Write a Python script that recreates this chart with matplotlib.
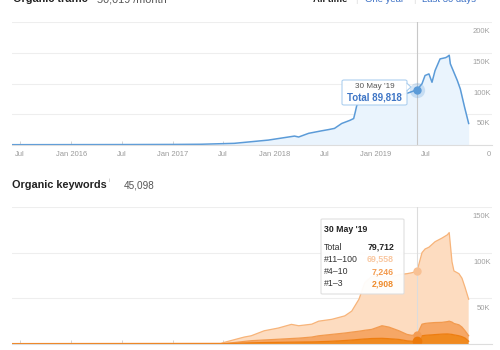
import matplotlib
matplotlib.use('Agg')
import matplotlib.pyplot as plt
import numpy as np
import pandas as pd
from matplotlib.patches import FancyBboxPatch, Polygon

plt.rcParams['font.family'] = ['Liberation Sans', 'DejaVu Sans']

# - DATA -
tick_dates = ['2015-07-01', '2016-01-01', '2016-07-01', '2017-01-01', '2017-07-01',
              '2018-01-01', '2018-07-01', '2019-01-01', '2019-07-01']
tick_labels = ['Jul', 'Jan 2016', 'Jul', 'Jan 2017', 'Jul', 'Jan 2018', 'Jul', 'Jan 2019', 'Jul']

traffic_dates = ['2015-06-02', '2016-01-01', '2016-07-01', '2017-01-01', '2017-04-12',
                 '2017-08-10', '2017-12-11', '2018-03-15', '2018-03-30', '2018-05-05',
                 '2018-06-20', '2018-07-15', '2018-08-06', '2018-09-01', '2018-09-30',
                 '2018-10-14', '2018-10-20', '2018-10-25', '2018-11-05', '2018-12-15',
                 '2019-02-01', '2019-03-20', '2019-04-24', '2019-05-30', '2019-06-17',
                 '2019-06-28', '2019-07-12', '2019-07-23', '2019-08-03', '2019-08-21',
                 '2019-09-10', '2019-09-16', '2019-09-23', '2019-09-27', '2019-10-22',
                 '2019-11-02', '2019-11-17', '2019-12-02']
traffic = [500, 600, 700, 900, 1200,
           2700, 8000, 14500, 13000, 19000,
           23000, 25000, 27000, 35000, 40000,
           43000, 54000, 64000, 72000, 70000,
           76000, 80000, 84000, 89818, 99500,
           113000, 115600, 102000, 121000, 140000,
           142000, 143500, 146000, 132000, 105000,
           91000, 62000, 35000]

kw_dates = ['2015-06-02', '2017-06-23', '2017-08-10', '2017-09-15', '2017-10-10',
            '2017-11-26', '2018-01-16', '2018-03-04', '2018-03-30', '2018-05-16',
            '2018-06-10', '2018-07-27', '2018-09-12', '2018-10-07', '2018-11-02',
            '2018-11-23', '2018-12-18', '2019-01-24', '2019-02-18', '2019-03-26',
            '2019-04-24', '2019-05-11', '2019-05-30', '2019-06-17', '2019-06-28',
            '2019-07-12', '2019-08-03', '2019-08-28', '2019-09-16', '2019-09-23',
            '2019-10-03', '2019-10-10', '2019-10-28', '2019-11-08', '2019-11-19',
            '2019-12-02']
kw_1_3 = [100, 200, 600, 1000, 1300,
          1600, 1800, 2000, 2100, 2300,
          2500, 3000, 3800, 4300, 5000,
          5500, 6000, 6200, 5800, 5000,
          3500, 3000, 2908, 9000, 9500,
          9800, 10300, 10800, 11000, 10800,
          10500, 10000, 9000, 8000, 6500,
          3000]
kw_4_10 = [100, 200, 1000, 1800, 2300,
           2800, 3400, 4000, 4300, 5300,
           6500, 7500, 8200, 8700, 9000,
           9500, 10000, 13800, 12700, 9500,
           7000, 6500, 7246, 12700, 13000,
           13200, 13200, 12900, 13500, 14200,
           13500, 12500, 12000, 10500, 8000,
           6000]
kw_total = [500, 800, 4700, 7600, 9000,
            14500, 17500, 21500, 20000, 21700,
            25000, 27000, 30800, 36000, 49000,
            67000, 74000, 75000, 73000, 76000,
            77000, 78000, 79712, 100000, 104000,
            106000, 112000, 116000, 119500, 122000,
            90000, 80000, 77000, 72000, 62000,
            49000]

hover_date = '2019-05-30'

# - FIGURE -
fig = plt.figure(figsize=(5, 3.5), dpi=100)


def fx(px):
    return px / 500


def fy(py):
    return 1 - py / 350


def style_axis(ax, ymax, yticks, ylabels):
    ax.set_xlim(pd.Timestamp('2015-06-02'), pd.Timestamp('2020-02-24'))
    ax.set_ylim(0, ymax)
    for s in ['top', 'right', 'left']:
        ax.spines[s].set_visible(False)
    ax.spines['bottom'].set_color('#dddddd')
    ax.spines['bottom'].set_linewidth(0.8)
    ax.set_xticks(pd.to_datetime(tick_dates))
    ax.set_xticklabels(tick_labels)
    ax.tick_params(axis='x', direction='in', length=3, color='#cccccc', width=0.6,
                   labelsize=5.5, labelcolor='#9a9a9a', pad=4)
    ax.set_yticks(yticks)
    ax.set_yticklabels([])
    ax.tick_params(axis='y', length=0)
    ax.grid(axis='y', color='#eeeeee', linewidth=0.8)
    ax.set_axisbelow(True)
    for v, s in zip(yticks, ylabels):
        ax.annotate(s, xy=(1, v), xycoords=('axes fraction', 'data'), xytext=(-1, -7),
                    textcoords='offset points', ha='right', va='center',
                    fontsize=5.5, color='#a0a0a0', annotation_clip=False)


# header of the top block (cut at the top edge)
fig.text(fx(13), fy(2.5), 'Organic traffic', fontsize=7.8, fontweight='bold',
         color='#222222', va='baseline')
fig.text(fx(97), fy(2.5), '50,019 /month', fontsize=7.8, color='#555555', va='baseline')
fig.text(fx(313), fy(2.5), 'All time', fontsize=6.8, fontweight='bold', color='#222222', va='baseline')
fig.text(fx(355), fy(2.5), '|', fontsize=6.8, color='#dddddd', va='baseline')
fig.text(fx(365), fy(2.5), 'One year', fontsize=6.8, color='#3a6fc4', va='baseline')
fig.text(fx(413), fy(2.5), '|', fontsize=6.8, color='#dddddd', va='baseline')
fig.text(fx(422), fy(2.5), 'Last 30 days', fontsize=6.8, color='#3a6fc4', va='baseline')

# - TOP: organic traffic -
ax1 = fig.add_axes([fx(12), fy(145), fx(480), (145 - 22) / 350])
style_axis(ax1, 200000, [0, 50000, 100000, 150000, 200000], ['0', '50K', '100K', '150K', '200K'])
td = pd.to_datetime(traffic_dates)
ax1.fill_between(td, traffic, color='#eaf4fd', linewidth=0)
ax1.plot(td, traffic, color='#5b9bd8', linewidth=1.1)
hd = pd.Timestamp(hover_date)
hv = traffic[traffic_dates.index(hover_date)]
ax1.axvline(hd, color='#c8c8c8', linewidth=0.8)
ax1.plot([hd], [hv], 'o', color='#5b9bd8', alpha=0.25, markersize=11, markeredgewidth=0)
ax1.plot([hd], [hv], 'o', color='#5b9bd8', markersize=6, markeredgewidth=0)

box1 = FancyBboxPatch((fx(342), fy(105)), fx(65), (105 - 80) / 350,
                      boxstyle='round,pad=0,rounding_size=0.004', transform=fig.transFigure,
                      facecolor='white', edgecolor='#a9cdee', linewidth=0.8, alpha=0.95)
fig.patches.append(box1)
ptr = Polygon([(fx(406.6), fy(83)), (fx(411), fy(87)), (fx(406.6), fy(91))], closed=False,
              transform=fig.transFigure, facecolor='white', edgecolor='#a9cdee', linewidth=0.8)
fig.patches.append(ptr)
fig.text(fx(374.5), fy(87), "30 May '19", fontsize=5.9, color='#555555', ha='center', va='center')
fig.text(fx(374.5), fy(97.5), 'Total 89,818', fontsize=7, fontweight='bold', color='#3f76c6',
         ha='center', va='center')

# - BOTTOM: organic keywords -
fig.text(fx(12), fy(185), 'Organic keywords', fontsize=7.8, fontweight='bold',
         color='#222222', va='center')
fig.text(fx(109), fy(181), 'i', fontsize=4, color='#aaaaaa', va='center')
fig.text(fx(124), fy(185), '45,098', fontsize=7.2, color='#555555', va='center')

ax2 = fig.add_axes([fx(12), fy(344), fx(480), (344 - 207) / 350])
style_axis(ax2, 150000, [0, 50000, 100000, 150000], ['0', '50K', '100K', '150K'])
kd = pd.to_datetime(kw_dates)
kw_11_100 = np.array(kw_total) - np.array(kw_1_3) - np.array(kw_4_10)
ax2.stackplot(kd, kw_1_3, kw_4_10, kw_11_100,
              colors=['#f08a20', '#f6a766', '#fddcc0'], linewidth=0)
c1 = np.array(kw_1_3)
c2 = c1 + np.array(kw_4_10)
c3 = c2 + kw_11_100
ax2.plot(kd, c3, color='#f7b47a', linewidth=0.9)
ax2.plot(kd, c2, color='#f29a4e', linewidth=0.9)
ax2.plot(kd, c1, color='#ee7d10', linewidth=0.9)
ax2.axvline(hd, color='#dcdcdc', linewidth=0.8)
hi = kw_dates.index(hover_date)
ax2.plot([hd], [c3[hi]], 'o', color='#f8c194', markersize=6, markeredgewidth=0)
ax2.plot([hd], [c2[hi]], 'o', color='#f39c55', markersize=6, markeredgewidth=0)
ax2.plot([hd], [c1[hi]], 'o', color='#ec7a0c', markersize=7, markeredgewidth=0)

box2 = FancyBboxPatch((fx(321), fy(294)), fx(83), (294 - 219) / 350,
                      boxstyle='round,pad=0,rounding_size=0.003', transform=fig.transFigure,
                      facecolor='white', edgecolor='#dddddd', linewidth=0.8, alpha=0.95)
fig.patches.append(box2)
fig.text(fx(324), fy(230), "30 May '19", fontsize=6.3, fontweight='bold', color='#222222', va='center')
rows = [('Total', '79,712', '#222222'),
        ('#11\u2013100', '69,558', '#f9c7a0'),
        ('#4\u201310', '7,246', '#f39a4c'),
        ('#1\u20133', '2,908', '#ee8a2a')]
for i, (lab, val, col) in enumerate(rows):
    y = 247 + i * 12.3
    fig.text(fx(324), fy(y), lab, fontsize=6.3, color='#333333', va='center')
    fig.text(fx(394), fy(y), val, fontsize=6.3, fontweight='bold', color=col, ha='right', va='center')

fig.savefig('out.png', dpi=100)
